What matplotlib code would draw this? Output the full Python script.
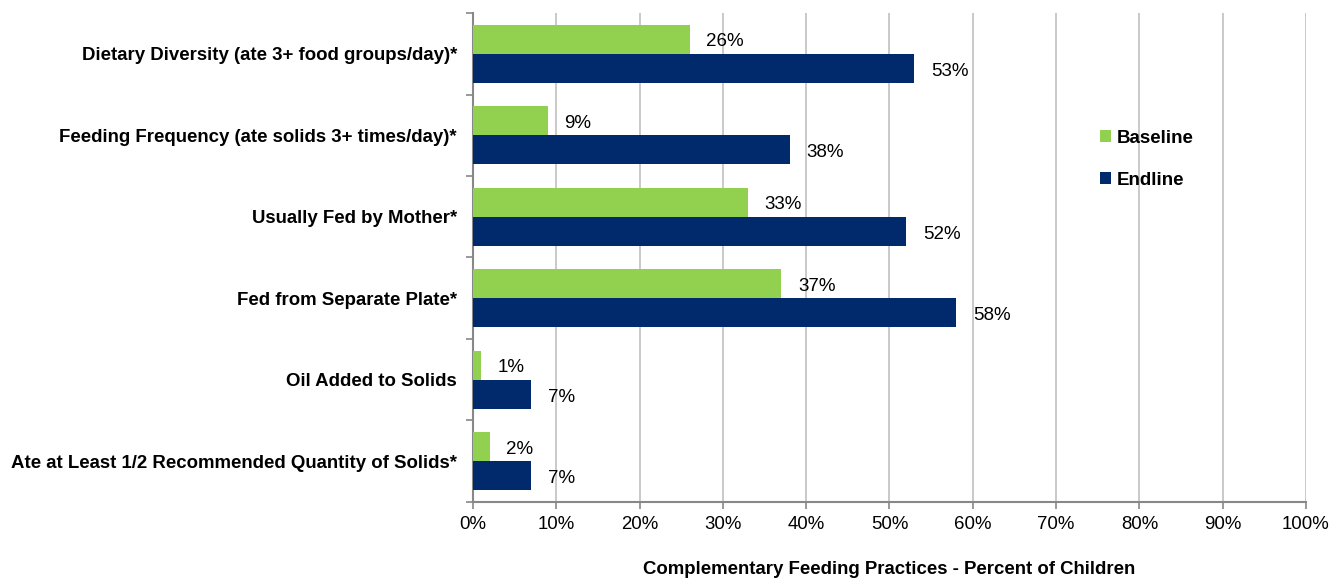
import matplotlib
matplotlib.use("Agg")
import matplotlib.pyplot as plt
import numpy as np
from matplotlib.ticker import FixedLocator, PercentFormatter

plt.rcParams['font.family'] = ['Liberation Sans', 'DejaVu Sans']

categories = [
    "Dietary Diversity (ate 3+ food groups/day)*",
    "Feeding Frequency (ate solids 3+ times/day)*",
    "Usually Fed by Mother*",
    "Fed from Separate Plate*",
    "Oil Added to Solids",
    "Ate at Least 1/2 Recommended Quantity of Solids*",
]
baseline = [26, 9, 33, 37, 1, 2]
endline = [53, 38, 52, 58, 7, 7]
xticks = [0, 10, 20, 30, 40, 50, 60, 70, 80, 90, 100]
xlabel = "Complementary Feeding Practices - Percent of Children"

green = "#92D050"
navy = "#002A6C"

fig = plt.figure(figsize=(13.41, 5.81), dpi=100)
ax = fig.add_axes([0.3527, 0.136, 0.6212, 0.8416])

n = len(categories)
y = np.arange(n)
h = 0.357
bb = ax.barh(y - h / 2, baseline, height=h, color=green, label="Baseline", zorder=3)
be = ax.barh(y + h / 2, endline, height=h, color=navy, label="Endline", zorder=3)

for bars, vals in ((bb, baseline), (be, endline)):
    for rect, v in zip(bars, vals):
        ax.annotate(f"{v}%", (rect.get_width(), rect.get_y() + rect.get_height() / 2),
                    xytext=(12, -2), textcoords="offset points", va="center", ha="left",
                    fontsize=13.5, color="#000000")

ax.set_ylim(n - 0.5, -0.5)
ax.set_xlim(0, 100)
ax.set_yticks(y)
ax.set_yticklabels(categories, fontsize=13.4, fontweight="bold")
ax.tick_params(axis="y", which="major", length=0, pad=11.5)
ax.yaxis.set_minor_locator(FixedLocator(np.arange(-0.5, n, 1.0)))
ax.tick_params(axis="y", which="minor", length=5, color="#888888", width=1.2)

ax.set_xticks(xticks)
ax.xaxis.set_major_formatter(PercentFormatter(decimals=0))
ax.tick_params(axis="x", which="major", length=5, color="#888888", width=1.2, labelsize=13.4, pad=5)

ax.grid(axis="x", color="#C0C0C0", linewidth=1.2, zorder=0)
ax.set_axisbelow(True)
for s in ("top", "right"):
    ax.spines[s].set_visible(False)
for s in ("left", "bottom"):
    ax.spines[s].set_color("#888888")
    ax.spines[s].set_linewidth(1.5)

fig.text(0.5527 + 0.11, 1 - 570 / 581, xlabel, fontsize=13.4, fontweight="bold",
         ha="center", va="center")

leg = ax.legend(handles=[bb, be], loc="upper left", bbox_to_anchor=(0.7525, 0.761),
                frameon=False, fontsize=13.5, handlelength=0.6, handleheight=0.6,
                handletextpad=0.3, labelspacing=1.32, borderaxespad=0, borderpad=0)
for t in leg.get_texts():
    t.set_fontweight("bold")

fig.savefig("out.png", dpi=100)
